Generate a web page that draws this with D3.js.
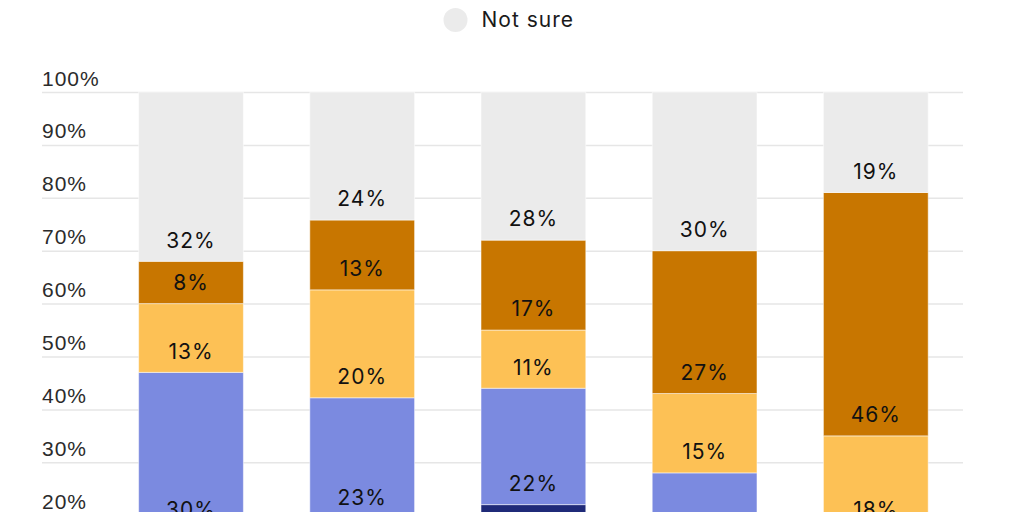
<!DOCTYPE html>
<html>
<head>
<meta charset="utf-8">
<script src="https://cdn.jsdelivr.net/npm/d3@7"></script>
<style>
  html, body { margin: 0; padding: 0; background: #fff; overflow: hidden; }
  svg { display: block; font-family: Inter, "Noto Sans", sans-serif; letter-spacing: 1px; }
</style>
</head>
<body>
<svg width="1024" height="512"></svg>
<script>
// categories (x labels sit below the visible crop)
const categories = ['Group A', 'Group B', 'Group C', 'Group D', 'Group E'];

// series, bottom to top
const seriesNames = ['Strongly', 'Somewhat', 'Neutral', 'Against', 'Not sure'];
const strongly  = [17, 19.4, 22, 10, 10];
const somewhat  = [30, 22.8, 22, 18, 7];
const neutral   = [13, 20.4, 11, 15, 18];
const against   = [8, 13.2, 17, 27, 46];
const notSure   = [32, 24.2, 28, 30, 19];

const yTicks = [0, 10, 20, 30, 40, 50, 60, 70, 80, 90, 100];

const colors = ['#1f2a78', '#7b8ae0', '#fdc155', '#c87600', '#ebebeb'];

const svg = d3.select('svg');

// ---- table for the stack
const rows = categories.map((c, i) => ({
    cat: c,
    'Strongly': strongly[i],
    'Somewhat': somewhat[i],
    'Neutral': neutral[i],
    'Against': against[i],
    'Not sure': notSure[i]
}));

const stacked = d3.stack().keys(seriesNames)(rows);

// ---- scales (plot runs below the bottom edge of the picture)
const y = d3.scaleLinear()
    .domain([0, 100])
    .range([621, 92]);

const x = d3.scaleBand()
    .domain(categories)
    .range([105.4, 961.4])
    .paddingInner(0.388)
    .paddingOuter(0.194);

// Grid + y labels
const grid = svg.append('g')
    .attr('transform', 'translate(42,0)')
    .call(d3.axisLeft(y).tickValues(yTicks).tickSize(-921).tickFormat(d => d + '%'));

grid.select('.domain').remove();
grid.selectAll('.tick line')
    .attr('stroke', '#e6e6e6')
    .attr('stroke-width', 1.5);
grid.selectAll('.tick text')
    .attr('x', 0)
    .attr('dy', -7)
    .attr('text-anchor', 'start')
    .style('font-size', '21px')
    .style('fill', '#2b2b2b');

// Bars
const layers = svg.append('g')
    .selectAll('g')
    .data(stacked)
    .join('g')
    .attr('fill', (d, i) => colors[i]);

layers.selectAll('rect')
    .data(d => d)
    .join('rect')
    .attr('x', d => x(d.data.cat))
    .attr('y', d => y(d[1]))
    .attr('width', x.bandwidth())
    .attr('height', d => y(d[0]) - y(d[1]))
    .attr('stroke', 'rgba(255,255,255,0.5)')
    .attr('stroke-width', 1);

// Value labels, near the bottom of each segment
layers.selectAll('text')
    .data(d => d)
    .join('text')
    .attr('x', d => x(d.data.cat) + x.bandwidth() / 2)
    .attr('y', d => y(d[0]) - 21)
    .attr('dy', '0.35em')
    .attr('text-anchor', 'middle')
    .style('font-size', '21px')
    .style('fill', '#111')
    .text(d => Math.round(d[1] - d[0]) + '%');

// X axis (outside the crop)
svg.append('g')
    .attr('transform', `translate(0,${y(0)})`)
    .call(d3.axisBottom(x).tickSize(0))
    .select('.domain').remove();

// Legend: only the last row is in view
const legend = svg.append('g')
    .attr('transform', 'translate(455.5,20)');

legend.append('circle')
    .attr('r', 12)
    .attr('fill', colors[4]);

legend.append('text')
    .attr('x', 26)
    .attr('dy', '0.35em')
    .style('font-size', '21px')
    .style('fill', '#1a1a1a')
    .text(seriesNames[4]);
</script>
</body>
</html>
